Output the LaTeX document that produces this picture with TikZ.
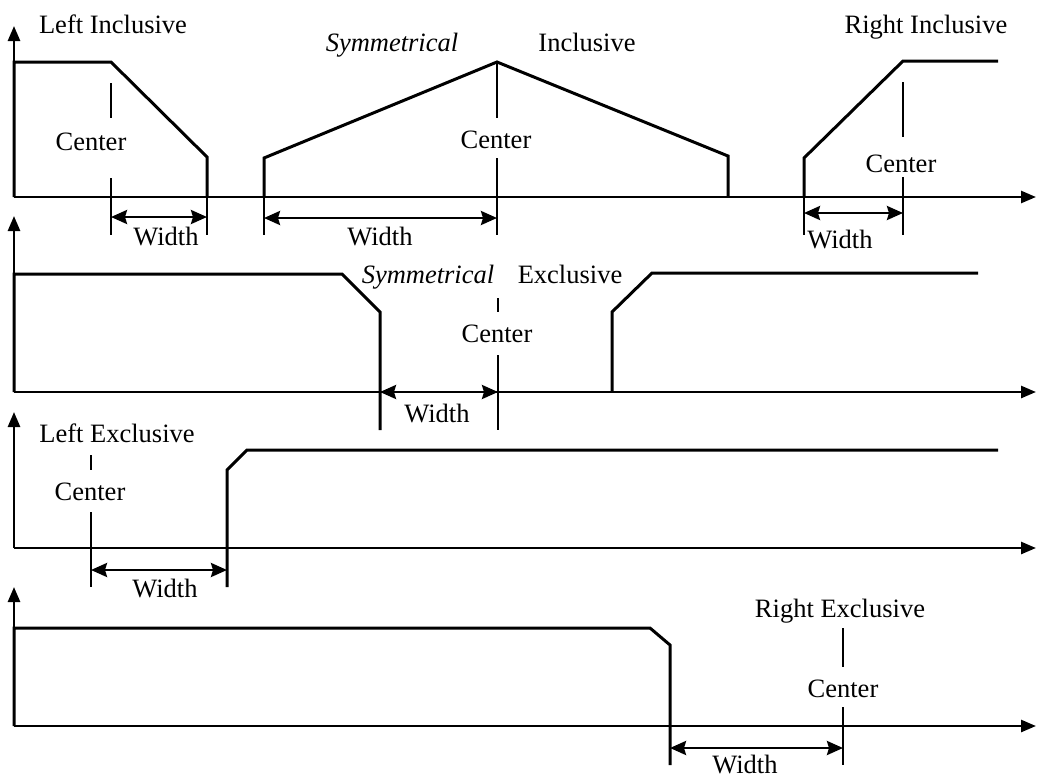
\documentclass[tikz,border=0pt]{standalone}
\usepackage{fontspec}
\setmainfont{Liberation Serif}
\usetikzlibrary{arrows.meta}
\begin{document}
\begin{tikzpicture}[x=1pt,y=-1pt,
  sig/.style={line width=3pt,line join=miter},
  axis/.style={line width=2.6pt,-{Triangle[length=15pt,width=12pt]}},
  cline/.style={line width=2.4pt},
  warrow/.style={line width=2.6pt,{Stealth[length=16pt,width=14pt,inset=2pt]}-{Stealth[length=16pt,width=14pt,inset=2pt]}},
  lbl/.style={anchor=base,inner sep=0pt,font=\fontsize{26.5}{30}\selectfont},
  ilbl/.style={lbl,font=\fontsize{26.5}{30}\selectfont\itshape}]
\useasboundingbox (0,0) rectangle (1037,780);
% ---------- Panel 1 ----------
\coordinate (o1) at (14,197);
\draw[axis] (o1) -- (14,26);
\draw[axis] (o1) -- (1036,197);
% left inclusive
\draw[sig] (14,197) -- (14,62) -- (111,62) -- (207,157) -- (207,197);
\draw[cline] (111,83) -- (111,118);
\draw[cline] (111,178) -- (111,235);
\draw[cline] (207,197) -- (207,235);
\coordinate (a1) at (111,217); \coordinate (b1) at (207,217);
\draw[warrow] (a1) -- (b1);
\node[lbl] (tLI) at (113,33) {Left Inclusive};
\node[lbl] (c1) at (91,150) {Center};
\node[lbl] (w1) at (166,245) {Width};
% symmetrical inclusive
\draw[sig] (264,197) -- (264,158) -- (497,62) -- (728,156) -- (728,197);
\draw[cline] (497,62) -- (497,118);
\draw[cline] (497,158) -- (497,235);
\draw[cline] (264,197) -- (264,235);
\coordinate (a2) at (264,218); \coordinate (b2) at (497,218);
\draw[warrow] (a2) -- (b2);
\node[ilbl] (tSI1) at (392,51) {Symmetrical};
\node[lbl] (tSI2) at (587,51) {Inclusive};
\node[lbl] (c2) at (496,148) {Center};
\node[lbl] (w2) at (380,245) {Width};
% right inclusive
\draw[sig] (804,197) -- (804,158) -- (903,61) -- (998,61);
\draw[cline] (903,82) -- (903,137);
\draw[cline] (903,177) -- (903,235);
\draw[cline] (804,197) -- (804,235);
\coordinate (a3) at (804,213); \coordinate (b3) at (903,213);
\draw[warrow] (a3) -- (b3);
\node[lbl] (tRI) at (926,33) {Right Inclusive};
\node[lbl] (c3) at (901,172) {Center};
\node[lbl] (w3) at (840,248) {Width};
% ---------- Panel 2 ----------
\coordinate (o2) at (14,392);
\draw[axis] (o2) -- (14,216);
\draw[axis] (o2) -- (1036,392);
\draw[sig] (14,392) -- (14,274) -- (342,274) -- (380,312) -- (380,430);
\draw[sig] (612,392) -- (612,312) -- (652,273) -- (978,273);
\draw[cline] (498,298) -- (498,312);
\draw[cline] (498,355) -- (498,430);
\coordinate (a4) at (380,392); \coordinate (b4) at (498,392);
\draw[warrow] (a4) -- (b4);
\node[ilbl] (tSE1) at (428,283) {Symmetrical};
\node[lbl] (tSE2) at (570,283) {Exclusive};
\node[lbl] (c4) at (497,342) {Center};
\node[lbl] (w4) at (437,422) {Width};
% ---------- Panel 3 ----------
\coordinate (o3) at (14,548);
\draw[axis] (o3) -- (14,412);
\draw[axis] (o3) -- (1036,548);
\draw[sig] (227,587) -- (227,470) -- (247,450) -- (998,450);
\draw[cline] (91,455) -- (91,470);
\draw[cline] (91,512) -- (91,587);
\coordinate (a5) at (91,570); \coordinate (b5) at (227,570);
\draw[warrow] (a5) -- (b5);
\node[lbl] (tLE) at (117,442) {Left Exclusive};
\node[lbl] (c5) at (90,500) {Center};
\node[lbl] (w5) at (165,597) {Width};
% ---------- Panel 4 ----------
\coordinate (o4) at (14,726);
\draw[axis] (o4) -- (14,587);
\draw[axis] (o4) -- (1036,726);
\draw[sig] (14,726) -- (14,628) -- (650,628) -- (670,645) -- (670,765);
\draw[cline] (843,628) -- (843,667);
\draw[cline] (843,707) -- (843,765);
\coordinate (a6) at (670,748); \coordinate (b6) at (843,748);
\draw[warrow] (a6) -- (b6);
\node[lbl] (tRE) at (840,617) {Right Exclusive};
\node[lbl] (c6) at (843,697) {Center};
\node[lbl] (w6) at (745,773) {Width};
\end{tikzpicture}
\end{document}
